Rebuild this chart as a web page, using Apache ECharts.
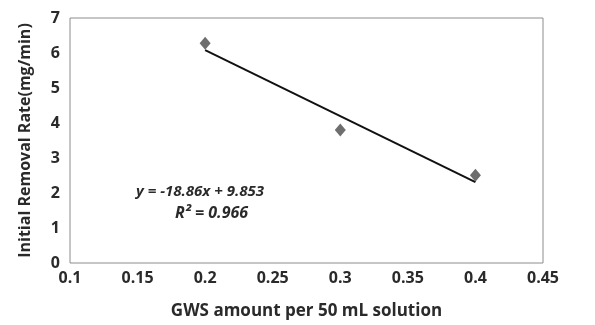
<!DOCTYPE html>
<html>
<head>
<meta charset="utf-8">
<script src="https://cdn.jsdelivr.net/npm/echarts@6/dist/echarts.min.js"></script>
<style>
html, body { margin: 0; padding: 0; background: #fff; }
#chart { width: 595px; height: 325px; }
</style>
</head>
<body>
<div id="chart"></div>
<script>
// measured points
const gwsAmount = [0.2, 0.3, 0.4];
const removalRate = [6.28, 3.8, 2.51];
// linear trendline end points (y = -18.86x + 9.853)
const trendX = [0.2, 0.4];
const trendY = [6.08, 2.31];
const equationText = 'y = -18.86x + 9.853';
const r2Text = 'R² = 0.966';

const font = '"Open Sans", sans-serif';
const chart = echarts.init(document.getElementById('chart'));

chart.setOption({
  animation: false,
  grid: {
    left: 70, right: 52, top: 18, bottom: 58,
    show: true, borderColor: '#8c8c8c', borderWidth: 1
  },
  xAxis: {
    type: 'value',
    min: 0.1, max: 0.45, interval: 0.05,
    name: 'GWS amount per 50 mL solution',
    nameLocation: 'middle',
    nameGap: 40,
    nameTextStyle: { fontFamily: font, fontWeight: 'bold', fontSize: 17, color: '#2a2a2a' },
    axisLine: { show: false },
    axisTick: { show: false },
    splitLine: { show: false },
    axisLabel: {
      fontFamily: font, fontWeight: 'bold', fontSize: 16, color: '#2a2a2a', margin: 7,
      formatter: v => String(+v.toFixed(2))
    }
  },
  yAxis: {
    type: 'value',
    min: 0, max: 7, interval: 1,
    name: 'Initial Removal Rate(mg/min)',
    nameLocation: 'middle',
    nameGap: 37,
    nameTextStyle: { fontFamily: font, fontWeight: 'bold', fontSize: 16, color: '#2a2a2a' },
    axisLine: { show: false },
    axisTick: { show: false },
    splitLine: { show: false },
    axisLabel: { fontFamily: font, fontWeight: 'bold', fontSize: 16, color: '#2a2a2a', margin: 10 }
  },
  series: [
    {
      type: 'line',
      data: trendX.map((x, i) => [x, trendY[i]]),
      showSymbol: false,
      lineStyle: { color: '#111', width: 2 },
      z: 2
    },
    {
      type: 'scatter',
      data: gwsAmount.map((x, i) => [x, removalRate[i]]),
      symbol: 'diamond',
      symbolSize: [11, 13],
      itemStyle: { color: '#4a4a4a' },
      z: 3
    }
  ],
  graphic: [
    {
      type: 'text', left: 136, top: 184,
      style: { text: equationText, font: 'italic bold 15px ' + font, fill: '#2a2a2a' }
    },
    {
      type: 'text', left: 175, top: 205,
      style: { text: r2Text, font: 'italic bold 16px ' + font, fill: '#2a2a2a' }
    }
  ]
});
</script>
</body>
</html>
